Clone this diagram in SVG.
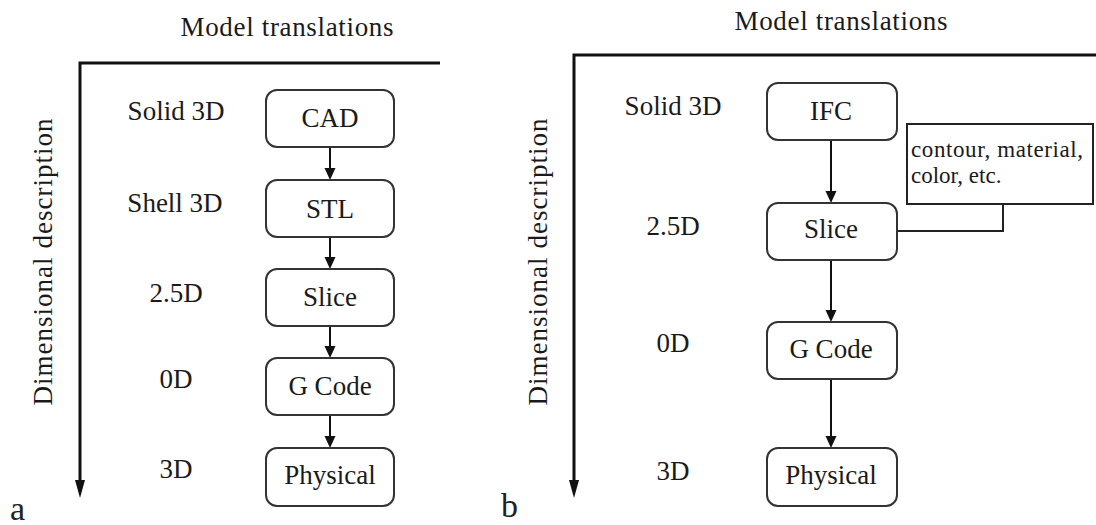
<svg xmlns="http://www.w3.org/2000/svg" width="1096" height="525" viewBox="0 0 1096 525" font-family="'Liberation Serif', 'DejaVu Serif', serif">
  <defs>
    <style>
      text { font-family: "Liberation Serif", "DejaVu Serif", serif; fill: #1a1a1a; }
      .lbl { font-size: 27px; }
      .mid { text-anchor: middle; }
      .box { fill: #ffffff; stroke: #333333; stroke-width: 2; }
      .axis { fill: none; stroke: #111111; stroke-width: 3; }
      .flow { fill: none; stroke: #111111; stroke-width: 2; }
      .thin { fill: none; stroke: #222222; stroke-width: 2; }
      .head { fill: #111111; }
      .note { font-size: 23px; }
      .panel { font-size: 34px; fill: #222222; }
    </style>
  </defs>
  <rect width="1096" height="525" fill="#ffffff"/>

  <!-- Panel a: axes and titles -->
  <g id="a-axes">
    <text class="lbl mid" x="287" y="36" textLength="213" lengthAdjust="spacing">Model translations</text>
    <polyline class="axis" points="440,63 80,63 80,480"/>
    <path class="head" d="M75,480 L85,480 L80,498 Z"/>
    <text class="lbl mid" transform="translate(52,262) rotate(-90)" textLength="287" lengthAdjust="spacing">Dimensional description</text>
    <text class="panel" x="10" y="520">a</text>
  </g>

  <!-- Panel a: level labels -->
  <g id="a-levels">
    <text class="lbl mid" x="176" y="120">Solid 3D</text>
    <text class="lbl mid" x="175" y="212">Shell 3D</text>
    <text class="lbl mid" x="176" y="302">2.5D</text>
    <text class="lbl mid" x="176" y="388">0D</text>
    <text class="lbl mid" x="176" y="478">3D</text>
  </g>

  <!-- Panel a: connectors -->
  <g id="a-connectors">
    <line class="flow" x1="330" y1="147" x2="330" y2="168"/>
    <path class="head" d="M324.5,168 L335.5,168 L330,180 Z"/>
    <line class="flow" x1="330" y1="237" x2="330" y2="257"/>
    <path class="head" d="M324.5,257 L335.5,257 L330,269 Z"/>
    <line class="flow" x1="330" y1="326" x2="330" y2="346"/>
    <path class="head" d="M324.5,346 L335.5,346 L330,358 Z"/>
    <line class="flow" x1="330" y1="415" x2="330" y2="436"/>
    <path class="head" d="M324.5,436 L335.5,436 L330,448 Z"/>
  </g>

  <!-- Panel a: nodes -->
  <g id="a-cad">
    <rect class="box" x="266" y="90" width="128" height="57" rx="11"/>
    <text class="lbl mid" x="330" y="127">CAD</text>
  </g>
  <g id="a-stl">
    <rect class="box" x="266" y="180" width="128" height="57" rx="11"/>
    <text class="lbl mid" x="330" y="218">STL</text>
  </g>
  <g id="a-slice">
    <rect class="box" x="266" y="269" width="128" height="57" rx="11"/>
    <text class="lbl mid" x="330" y="306">Slice</text>
  </g>
  <g id="a-gcode">
    <rect class="box" x="266" y="358" width="128" height="57" rx="11"/>
    <text class="lbl mid" x="330" y="395">G Code</text>
  </g>
  <g id="a-physical">
    <rect class="box" x="266" y="448" width="128" height="58" rx="11"/>
    <text class="lbl mid" x="330" y="484">Physical</text>
  </g>

  <!-- Panel b: axes and titles -->
  <g id="b-axes">
    <text class="lbl mid" x="841" y="30" textLength="213" lengthAdjust="spacing">Model translations</text>
    <polyline class="axis" points="1096,55 574,55 574,480"/>
    <path class="head" d="M569,480 L579,480 L574,498 Z"/>
    <text class="lbl mid" transform="translate(547,262) rotate(-90)" textLength="287" lengthAdjust="spacing">Dimensional description</text>
    <text class="panel" x="501" y="517">b</text>
  </g>

  <!-- Panel b: level labels -->
  <g id="b-levels">
    <text class="lbl mid" x="673" y="115">Solid 3D</text>
    <text class="lbl mid" x="673" y="235">2.5D</text>
    <text class="lbl mid" x="673" y="352">0D</text>
    <text class="lbl mid" x="673" y="480">3D</text>
  </g>

  <!-- Panel b: connectors -->
  <g id="b-connectors">
    <line class="flow" x1="831" y1="140" x2="831" y2="191"/>
    <path class="head" d="M825.5,191 L836.5,191 L831,203 Z"/>
    <line class="flow" x1="831" y1="260" x2="831" y2="310"/>
    <path class="head" d="M825.5,310 L836.5,310 L831,322 Z"/>
    <line class="flow" x1="831" y1="379" x2="831" y2="436"/>
    <path class="head" d="M825.5,436 L836.5,436 L831,448 Z"/>
    <polyline class="thin" points="897,231 1003,231 1003,204"/>
  </g>

  <!-- Panel b: nodes -->
  <g id="b-ifc">
    <rect class="box" x="767" y="83" width="130" height="57" rx="11"/>
    <text class="lbl mid" x="831" y="120">IFC</text>
  </g>
  <g id="b-slice">
    <rect class="box" x="767" y="203" width="130" height="57" rx="11"/>
    <text class="lbl mid" x="831" y="238">Slice</text>
  </g>
  <g id="b-gcode">
    <rect class="box" x="767" y="322" width="130" height="57" rx="11"/>
    <text class="lbl mid" x="831" y="358">G Code</text>
  </g>
  <g id="b-physical">
    <rect class="box" x="767" y="448" width="130" height="58" rx="11"/>
    <text class="lbl mid" x="831" y="484">Physical</text>
  </g>
  <g id="b-note">
    <rect class="thin" x="907" y="124" width="186" height="80"/>
    <text class="note" x="911" y="157" textLength="172" lengthAdjust="spacing">contour, material,</text>
    <text class="note" x="911" y="183">color, etc.</text>
  </g>
</svg>
